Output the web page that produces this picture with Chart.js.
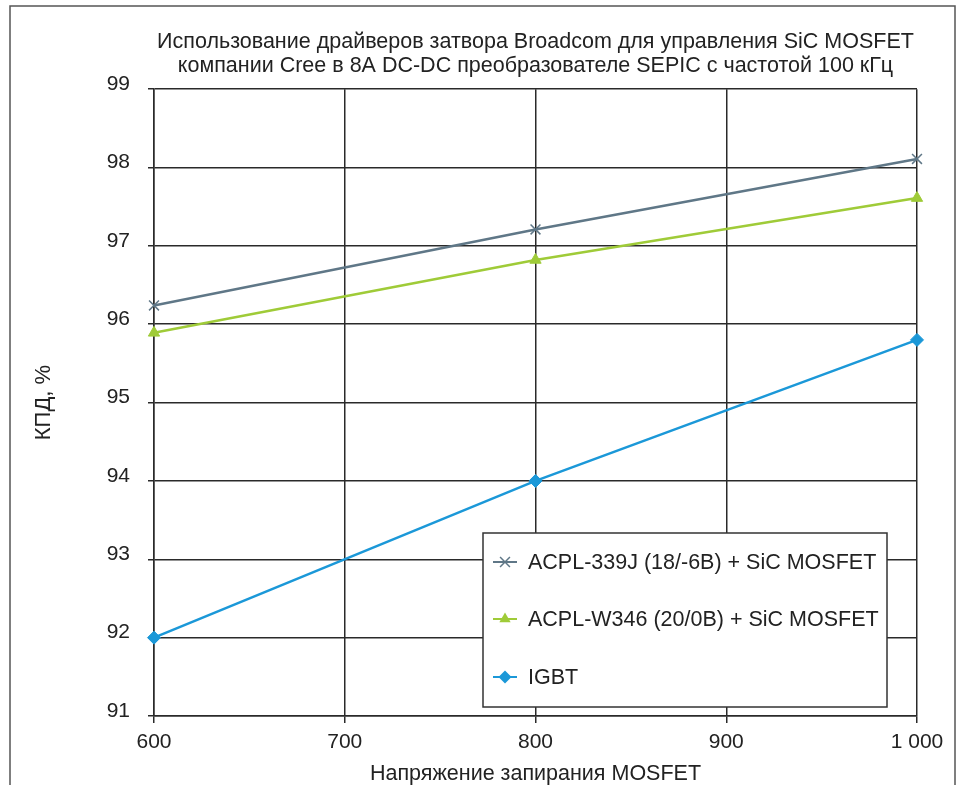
<!DOCTYPE html>
<html>
<head>
<meta charset="utf-8">
<script src="https://cdn.jsdelivr.net/npm/chart.js@4/dist/chart.umd.min.js"></script>
<style>
  html, body { margin: 0; padding: 0; background: #fff; }
  #wrap { width: 959px; height: 785px; position: relative; }
</style>
</head>
<body>
<div id="wrap"><canvas id="c" width="959" height="785"></canvas></div>
<script>
const voltages = [600, 800, 1000];
const acpl339j = [96.24, 97.21, 98.11];
const acplW346 = [95.89, 96.82, 97.61];
const igbt = [92.0, 94.0, 95.8];
const seriesNames = ['ACPL-339J (18/-6В) + SiC MOSFET', 'ACPL-W346 (20/0В) + SiC MOSFET', 'IGBT'];
const titleLines = ['Использование драйверов затвора Broadcom для управления SiC MOSFET', 'компании Cree в 8А DC-DC преобразователе SEPIC с частотой 100 кГц'];
const xTitle = 'Напряжение запирания MOSFET';
const yTitle = 'КПД, %';

const FONT = "'Liberation Sans', Arial, sans-serif";
const INK = '#222';
const GRID = '#2a2a2a';

function pts(vals) { return voltages.map((x, i) => ({ x: x, y: vals[i] })); }

const frame = {
  id: 'frame',
  beforeDraw(chart) {
    const ctx = chart.ctx;
    ctx.save();
    ctx.fillStyle = '#fff';
    ctx.fillRect(0, 0, chart.width, chart.height);
    ctx.strokeStyle = '#555';
    ctx.lineWidth = 1.5;
    ctx.beginPath();
    ctx.moveTo(10, 800);
    ctx.lineTo(10, 6);
    ctx.lineTo(955, 6);
    ctx.lineTo(955, 800);
    ctx.stroke();
    ctx.restore();
  }
};

function marker(ctx, style, x, y, r, color) {
  ctx.save();
  ctx.fillStyle = color;
  ctx.strokeStyle = color;
  ctx.lineWidth = 1.5;
  ctx.beginPath();
  if (style === 'crossRot') {
    const a = r * 0.707;
    ctx.moveTo(x - a, y - a); ctx.lineTo(x + a, y + a);
    ctx.moveTo(x + a, y - a); ctx.lineTo(x - a, y + a);
    ctx.stroke();
  } else if (style === 'triangle') {
    ctx.moveTo(x, y - r); ctx.lineTo(x + r * 0.87, y + r * 0.5); ctx.lineTo(x - r * 0.87, y + r * 0.5);
    ctx.closePath(); ctx.fill();
  } else {
    ctx.moveTo(x, y - r); ctx.lineTo(x + r, y); ctx.lineTo(x, y + r); ctx.lineTo(x - r, y);
    ctx.closePath(); ctx.fill();
  }
  ctx.restore();
}

const boxLegend = {
  id: 'boxLegend',
  afterDraw(chart) {
    const ctx = chart.ctx;
    const L = 483, T = 533, R = 887, B = 707;
    ctx.save();
    ctx.fillStyle = '#fff';
    ctx.fillRect(L, T, R - L, B - T);
    ctx.strokeStyle = '#333';
    ctx.lineWidth = 1.5;
    ctx.strokeRect(L, T, R - L, B - T);
    const rows = [562, 619, 677];
    chart.data.datasets.forEach((ds, i) => {
      const y = rows[i];
      ctx.strokeStyle = ds.borderColor;
      ctx.lineWidth = 2;
      ctx.beginPath();
      ctx.moveTo(493, y); ctx.lineTo(517, y);
      ctx.stroke();
      marker(ctx, ds.pointStyle, 505, y, ds.pointRadius, ds.borderColor);
      ctx.fillStyle = INK;
      ctx.font = '21.5px ' + FONT;
      ctx.textBaseline = 'middle';
      ctx.textAlign = 'left';
      ctx.fillText(ds.label, 528, y + 1);
    });
    ctx.restore();
  }
};

new Chart(document.getElementById('c'), {
  type: 'line',
  data: {
    datasets: [
      { label: seriesNames[0], data: pts(acpl339j), borderColor: '#5f7787', backgroundColor: '#5f7787', borderWidth: 2.5, pointStyle: 'crossRot', pointRadius: 7, pointBorderWidth: 1.5, tension: 0, clip: false },
      { label: seriesNames[1], data: pts(acplW346), borderColor: '#9fcb38', backgroundColor: '#9fcb38', borderWidth: 2.5, pointStyle: 'triangle', pointRadius: 6.5, pointBorderWidth: 1, tension: 0, clip: false },
      { label: seriesNames[2], data: pts(igbt), borderColor: '#1b98d8', backgroundColor: '#1b98d8', borderWidth: 2.5, pointStyle: 'rectRot', pointRadius: 6.5, pointBorderWidth: 1, tension: 0, clip: false }
    ]
  },
  options: {
    responsive: false,
    animation: false,
    devicePixelRatio: 1,
    layout: { padding: { left: 0, right: 42, top: 0, bottom: 0 } },
    plugins: {
      legend: { display: false },
      tooltip: { enabled: false },
      title: {
        display: true,
        text: titleLines,
        fullSize: false,
        color: INK,
        font: { family: FONT, size: 21.5, weight: 'normal', lineHeight: 1.12 },
        padding: { top: 30, bottom: 11 }
      }
    },
    scales: {
      x: {
        type: 'linear',
        min: 600, max: 1000,
        ticks: {
          stepSize: 100,
          color: INK,
          font: { family: FONT, size: 21 },
          padding: 7,
          maxRotation: 0,
          callback: (v) => String(v).replace(/\B(?=(\d{3})+(?!\d))/g, ' ')
        },
        grid: { color: GRID, lineWidth: 1.5, tickLength: 7, drawTicks: true },
        border: { display: true, color: GRID, width: 1.5 },
        title: { display: true, text: xTitle, color: INK, font: { family: FONT, size: 21.5, lineHeight: 1.0 }, padding: { top: 0, bottom: 0 } },
        afterFit: (s) => { s.height = 69; }
      },
      y: {
        min: 91, max: 99,
        ticks: {
          stepSize: 1, color: INK,
          font: { family: FONT, size: 21, lineHeight: 0.48 },
          padding: 18,
          callback: (v) => [String(v), '']
        },
        grid: { color: GRID, lineWidth: 1.5, tickLength: 6 },
        border: { display: true, color: GRID, width: 1.5 },
        title: { display: true, text: yTitle, color: INK, font: { family: FONT, size: 22 }, padding: { top: 31, bottom: 0 } },
        afterFit: (s) => { s.width = 154; }
      }
    }
  },
  plugins: [frame, boxLegend]
});
</script>
</body>
</html>
